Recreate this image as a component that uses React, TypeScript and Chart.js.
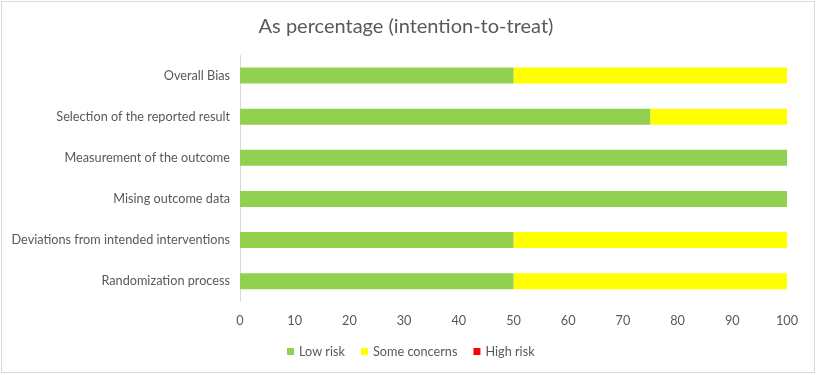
import React, { useEffect, useRef } from "react";
import { Chart, registerables } from "chart.js";

Chart.register(...registerables);

const categories = [
  "Overall Bias",
  "Selection of the reported result",
  "Measurement of the outcome",
  "Mising outcome data",
  "Deviations from intended interventions",
  "Randomization process",
];
const lowRisk = [50, 75, 100, 100, 50, 50];
const someConcerns = [50, 25, 0, 0, 50, 50];
const highRisk = [0, 0, 0, 0, 0, 0];
const xTicks = [0, 10, 20, 30, 40, 50, 60, 70, 80, 90, 100];
const titleText = "As percentage (intention-to-treat)";

const FONT = "Lato, 'Open Sans', sans-serif";
const TEXT = "#595959";

const framePlugin = {
  id: "frame",
  beforeDraw(chart: any) {
    const ctx = chart.ctx;
    ctx.save();
    ctx.fillStyle = "#ffffff";
    ctx.fillRect(0, 0, chart.width, chart.height);
    ctx.strokeStyle = "#d9d9d9";
    ctx.lineWidth = 1;
    ctx.strokeRect(1.5, 1.5, chart.width - 3, chart.height - 4);
    ctx.restore();
  },
};

const titlePlugin = {
  id: "customTitle",
  afterDraw(chart: any) {
    const ctx = chart.ctx;
    ctx.save();
    ctx.font = `20px ${FONT}`;
    ctx.fillStyle = TEXT;
    ctx.textAlign = "center";
    ctx.textBaseline = "middle";
    ctx.fillText(titleText, 406, 27);
    ctx.restore();
  },
};

const legendPlugin = {
  id: "customLegend",
  afterDraw(chart: any) {
    const ctx = chart.ctx;
    const box = 7;
    const gapText = 5;
    const gapItem = 16;
    const y = 351.5;
    ctx.save();
    ctx.font = `12.7px ${FONT}`;
    ctx.textBaseline = "middle";
    ctx.textAlign = "left";
    const items = chart.data.datasets.map((d: any) => ({
      label: d.label,
      color: d.backgroundColor,
      w: box + gapText + ctx.measureText(d.label).width,
    }));
    const total =
      items.reduce((s: number, it: any) => s + it.w, 0) + gapItem * (items.length - 1);
    let x = Math.round(411 - total / 2);
    for (const it of items) {
      ctx.fillStyle = it.color;
      ctx.fillRect(x, Math.round(y - box / 2), box, box);
      ctx.fillStyle = TEXT;
      ctx.fillText(it.label, x + box + gapText, y);
      x += it.w + gapItem;
    }
    ctx.restore();
  },
};

export default function App() {
  const ref = useRef<HTMLCanvasElement>(null);
  useEffect(() => {
    if (!ref.current) return;
    const chart = new Chart(ref.current, {
      type: "bar",
      data: {
        labels: categories,
        datasets: [
          { label: "Low risk", data: lowRisk, backgroundColor: "#92d050" },
          { label: "Some concerns", data: someConcerns, backgroundColor: "#ffff00" },
          { label: "High risk", data: highRisk, backgroundColor: "#ff0000" },
        ],
      },
      options: {
        indexAxis: "y",
        responsive: false,
        animation: false,
        layout: { padding: { left: 0, right: 29, top: 55, bottom: 34 } },
        font: { family: FONT },
        color: TEXT,
        datasets: { bar: { barPercentage: 0.5, categoryPercentage: 0.78 } },
        scales: {
          x: {
            stacked: true,
            min: 0,
            max: 100,
            afterBuildTicks: (s: any) => {
              s.ticks = xTicks.map((v) => ({ value: v }));
            },
            grid: { display: false, drawTicks: false },
            border: { display: false },
            ticks: { color: TEXT, font: { family: FONT, size: 12.7 }, padding: 12 },
          },
          y: {
            stacked: true,
            afterFit: (s: any) => {
              s.width = 240;
            },
            grid: { display: false, drawTicks: false },
            border: { display: true, color: "#d9d9d9" },
            ticks: { color: TEXT, font: { family: FONT, size: 12.7 }, padding: 10 },
          },
        },
        plugins: {
          title: { display: false },
          legend: { display: false },
          tooltip: { enabled: false },
        },
      },
      plugins: [framePlugin, titlePlugin, legendPlugin],
    });
    return () => chart.destroy();
  }, []);
  return (
    <div style={{ position: "absolute", left: 0, top: 0, width: 816, height: 375 }}>
      <canvas ref={ref} width={816} height={375} />
    </div>
  );
}
